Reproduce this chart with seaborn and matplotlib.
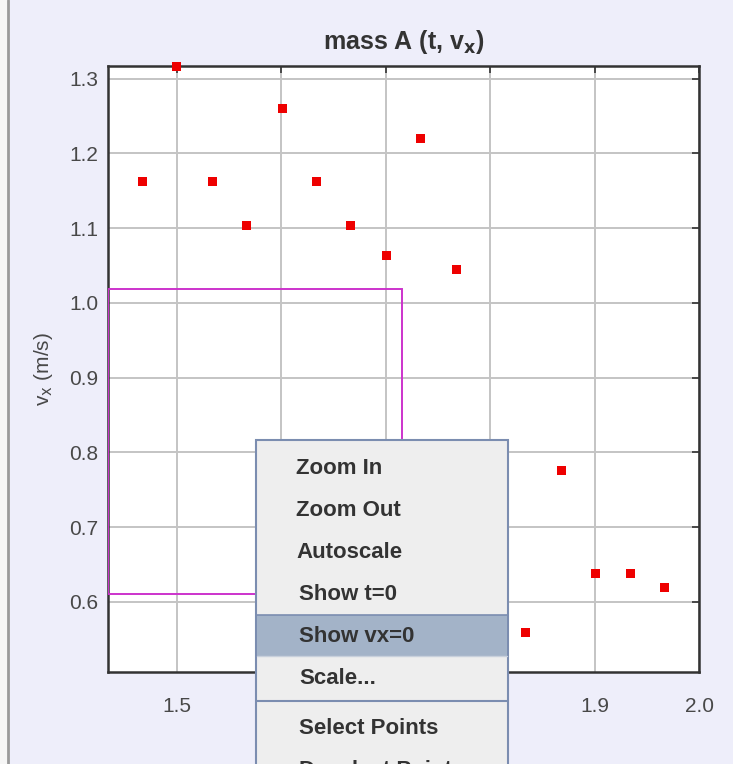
import numpy as np
import pandas as pd
import matplotlib
matplotlib.use('Agg')
import matplotlib.pyplot as plt
import seaborn as sns
from matplotlib.patches import Rectangle

# data (points behind the popup menu are not visible)
t_vals = [1.467, 1.500, 1.534, 1.567, 1.601, 1.634, 1.666, 1.701, 1.733, 1.768,
          1.834, 1.868, 1.901, 1.934, 1.967]
vx_vals = [1.163, 1.316, 1.163, 1.104, 1.260, 1.163, 1.104, 1.064, 1.220, 1.045,
           0.559, 0.775, 0.638, 0.638, 0.619]
x_ticks = [1.5, 1.6, 1.7, 1.8, 1.9, 2.0]
y_ticks = [0.6, 0.7, 0.8, 0.9, 1.0, 1.1, 1.2, 1.3]
menu_items = ['Zoom In', 'Zoom Out', 'Autoscale', 'Show t=0', 'Show vx=0', 'Scale...',
              'Select Points', 'Deselect Points']
# selection box drawn by the user (t0, t1, v0, v1)
sel_box = (1.434, 1.716, 0.611, 1.0185)

df = pd.DataFrame({'t': t_vals, 'vx': vx_vals})

sns.set_style('white')
plt.rcParams['font.family'] = ['Liberation Sans Narrow', 'Liberation Sans', 'DejaVu Sans']

W, H = 733, 764
fig = plt.figure(figsize=(W / 100, H / 100), dpi=100, facecolor='#eeeefa')

ax = fig.add_axes([108 / W, 1 - 672 / H, 591 / W, 606 / H])
ax.set_facecolor('white')
sns.scatterplot(data=df, x='t', y='vx', marker='s', s=42, color='#ee0000',
                edgecolor='none', ax=ax, zorder=5, clip_on=False)
ax.set_xlim(1.434, 2.0)
ax.set_ylim(0.506, 1.317)
ax.set_xticks(x_ticks)
ax.set_yticks(y_ticks)
ax.set_xticklabels([f'{v:.1f}' for v in x_ticks])
ax.set_yticklabels([f'{v:.1f}' for v in y_ticks])
ax.grid(True, color='#c4c4c4', linewidth=1.4)
ax.tick_params(axis='both', direction='in', length=5, width=1.2, colors='#333333',
               labelcolor='#484848', labelsize=15, top=True, right=True)
ax.tick_params(axis='x', pad=18)
ax.tick_params(axis='y', pad=7)
for sp in ax.spines.values():
    sp.set_color('#333333')
    sp.set_linewidth(1.8)
ax.set_xlabel('')
ax.set_ylabel(r'v$_\mathrm{x}$ (m/s)', fontsize=15, color='#484848', labelpad=10)
ax.set_title(r'mass A (t, v$_\mathbf{x}$)', fontsize=18, fontweight='bold',
             color='#333333', pad=12)

t0, t1, v0, v1 = sel_box
ax.add_patch(Rectangle((t0, v0), t1 - t0, v1 - v0, fill=False, edgecolor='#cc33cc',
                       linewidth=1.4, zorder=6))

# overlay in pixel coordinates for the window edge and the popup menu
ov = fig.add_axes([0, 0, 1, 1])
ov.set_xlim(0, W)
ov.set_ylim(H, 0)
ov.axis('off')
ov.patch.set_alpha(0)
ov.add_patch(Rectangle((0, 0), 8, H, facecolor='#f6f6f6', edgecolor='none'))
ov.plot([8, 8], [0, H], color='#9a9a9a', linewidth=2)

ov.add_patch(Rectangle((256, 440), 252, 340, facecolor='#eeeeee', edgecolor='#7b8db0',
                       linewidth=1.5, zorder=10))
ov.add_patch(Rectangle((257, 615), 250, 41, facecolor='#a3b3c8', edgecolor='none', zorder=11))
ov.plot([257, 507], [615, 615], color='#7b8db0', linewidth=1.2, zorder=12)
ov.plot([257, 507], [656, 656], color='#c8d0dc', linewidth=1.0, zorder=12)
ov.plot([257, 507], [701, 701], color='#7b8db0', linewidth=1.5, zorder=12)
item_y = [468, 510, 552, 594, 636, 678, 728, 770]
for i, (label, y) in enumerate(zip(menu_items, item_y)):
    xx = 296 if i < 3 else 299
    ov.text(xx, y, label, fontsize=16, fontweight='bold', color='#333333',
            va='center', ha='left', zorder=13)

fig.savefig('out.png', dpi=100, facecolor=fig.get_facecolor())
